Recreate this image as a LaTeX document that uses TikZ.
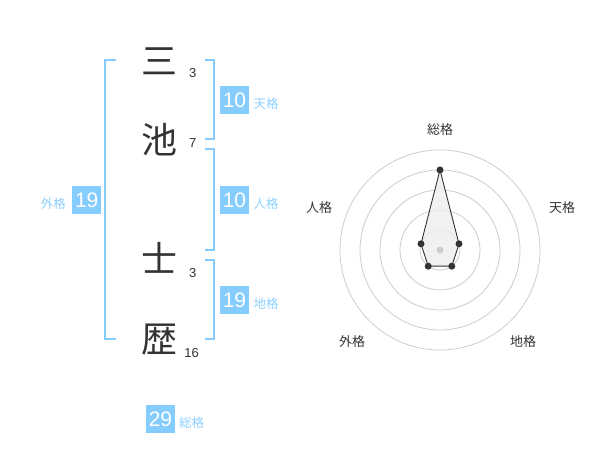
\documentclass[tikz,border=0pt]{standalone}
\usepackage{fontspec}
\setmainfont{Liberation Sans}
\newfontfamily\cjk{Noto Sans CJK JP}
\definecolor{boxblue}{HTML}{85CCFF}
\definecolor{lblblue}{HTML}{8CD0FF}
\definecolor{ink}{HTML}{333333}
\definecolor{ringgray}{HTML}{CCCCCC}
\definecolor{polyfill}{HTML}{EEEEEE}
\tikzset{
 kanji/.style={font=\cjk\fontsize{36}{36}\selectfont, text=ink, inner sep=0pt},
 strokes/.style={font=\fontsize{13}{13}\selectfont, text=ink, inner sep=0pt},
 scorebox/.style={fill=boxblue, text=white, font=\fontsize{21}{21}\selectfont, minimum width=29pt, minimum height=28pt, inner sep=0pt},
 scorelbl/.style={font=\cjk\fontsize{12.5}{12.5}\selectfont, text=lblblue, inner sep=0pt},
 bracket/.style={draw=boxblue, line width=2pt},
 ring/.style={draw=ringgray, line width=0.8pt},
 axislbl/.style={font=\cjk\fontsize{13}{13}\selectfont, text=ink, inner sep=0pt},
 datadot/.style={circle, fill=ink, inner sep=0pt, minimum size=7pt},
}
\begin{document}
\begin{tikzpicture}[x=1pt,y=-1pt]
\useasboundingbox (0,0) rectangle (600,470);
% brackets
\draw[bracket] (116,60) -- (105,60) -- (105,339) -- (116,339);
\draw[bracket] (205,60) -- (214,60) -- (214,139.5) -- (205,139.5);
\draw[bracket] (205,149.5) -- (214,149.5) -- (214,250) -- (205,250);
\draw[bracket] (205,260) -- (214,260) -- (214,339) -- (205,339);
% name characters
\node[kanji] (k1) at (159.3,61.7) {三};
\node[kanji] (k2) at (159.3,140) {池};
\node[kanji] (k3) at (159.3,258.3) {士};
\node[kanji] (k4) at (159.3,340) {歴};
\node[strokes] (s1) at (192.7,72.7) {3};
\node[strokes] (s2) at (192.7,142.7) {7};
\node[strokes] (s3) at (192.7,272.7) {3};
\node[strokes] (s4) at (191.7,352.7) {16};
% scores
\node[scorebox] (ten) at (234.5,100) {10};
\node[scorelbl] (tenl) at (266,104) {天格};
\node[scorebox] (jin) at (234.5,200) {10};
\node[scorelbl] (jinl) at (266,204) {人格};
\node[scorebox] (chi) at (234.5,300) {19};
\node[scorelbl] (chil) at (266,304) {地格};
\node[scorebox] (gai) at (86.7,200) {19};
\node[scorelbl] (gail) at (53.3,204) {外格};
\node[scorebox] (sou) at (160.5,419) {29};
\node[scorelbl] (soul) at (191.7,422.3) {総格};
% radar
\coordinate (c) at (440,250);
\foreach \r in {20,40,60,80,100} \draw[ring] (c) circle[radius=\r];
\coordinate (p1) at (440,170);
\coordinate (p2) at (459.0,243.8);
\coordinate (p3) at (451.8,266.2);
\coordinate (p4) at (428.2,266.2);
\coordinate (p5) at (421.0,243.8);
\draw[fill=polyfill, fill opacity=0.8, draw=ink, line width=0.9pt] (p1) -- (p2) -- (p3) -- (p4) -- (p5) -- cycle;
\fill[ringgray] (c) circle[radius=3.5];
\foreach \p in {p1,p2,p3,p4,p5} \node[datadot] at (\p) {};
\node[axislbl] (a1) at (440,130) {総格};
\node[axislbl] (a2) at (562,208) {天格};
\node[axislbl] (a3) at (523,342) {地格};
\node[axislbl] (a4) at (352,342) {外格};
\node[axislbl] (a5) at (319,208) {人格};
\end{tikzpicture}
\end{document}
